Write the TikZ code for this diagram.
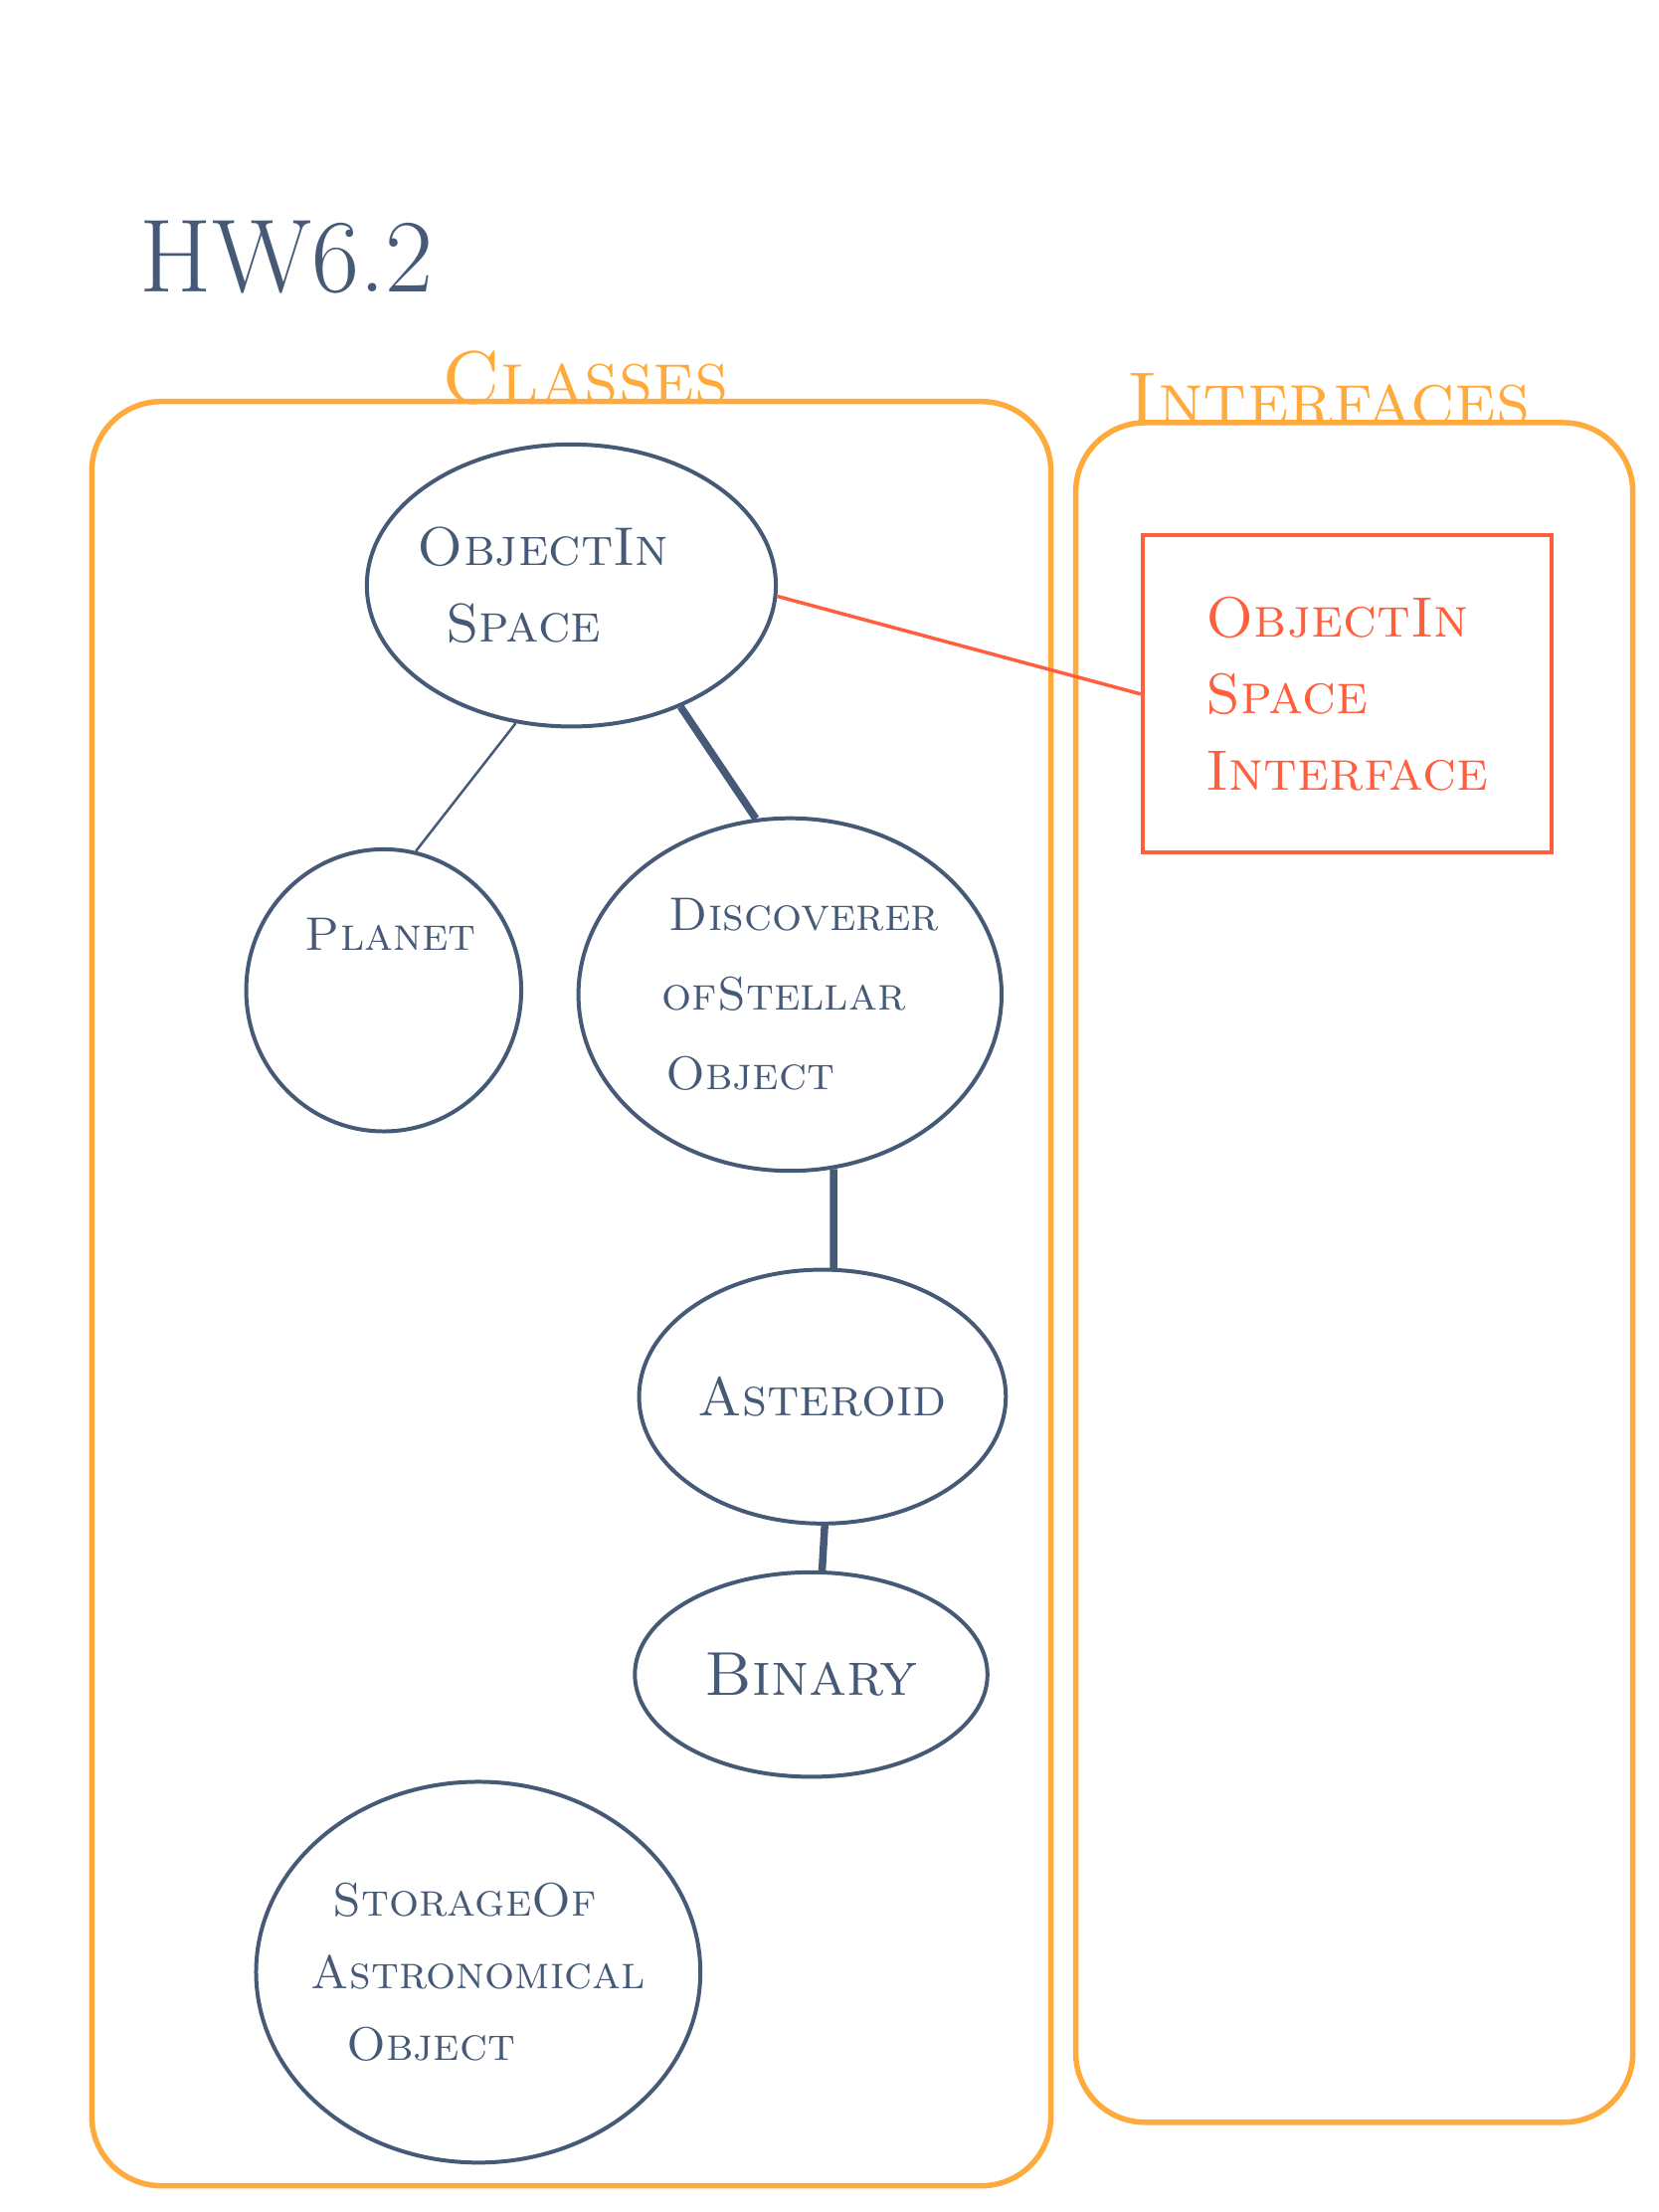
\documentclass[tikz,border=0pt]{standalone}
\usepackage{tikz}
\usetikzlibrary{shapes.geometric}

\definecolor{ink}{HTML}{465A78}
\definecolor{hl}{HTML}{FFAA3C}
\definecolor{rd}{HTML}{FF5F3C}

\tikzset{
  cls/.style={ellipse, draw=ink, line width=1.6pt, text=ink, align=left, inner sep=-20pt,
    font=\fontsize{22}{31}\selectfont\scshape},
  grp/.style={draw=hl, line width=2.2pt, rounded corners=28pt, inner sep=0pt},
  grplbl/.style={text=hl, font=\fontsize{30}{34}\selectfont\scshape},
  link/.style={draw=ink, line width=3pt},
  thinlink/.style={draw=ink, line width=1pt},
}

\begin{document}
\begin{tikzpicture}[x=0.02cm, y=-0.02cm]
       \useasboundingbox (0,0) rectangle (1176,1568);

       \node(T)[text=ink, font=\fontsize{42}{42}\selectfont] at (203,182) {HW6.2};

       % groups
       \node(CL)[grp, minimum width=13.6cm, minimum height=25.3cm] at (405,917) {};
       \node(NCL)[grplbl] at (415,268) {Classes};
       \node(IF)[grp, minimum width=7.9cm, minimum height=24.1cm] at (960,902) {};
       \node(NIF)[grplbl] at (942,283) {Interfaces};

       % classes
       \node(OIS)[cls, minimum width=5.8cm, minimum height=4.0cm] at (405,415) {ObjectIn\kern0.8cm\\\hspace{0.4cm}Space};
       \node(PL)[cls, minimum width=3.9cm, minimum height=4.0cm,
         label={[text=ink, font=\fontsize{19}{31}\selectfont\scshape, xshift=0.1cm, yshift=0.8cm]center:Planet}] at (272,702) {};
       \node(DSO)[cls, minimum width=6.0cm, minimum height=5.0cm,
         font=\fontsize{19}{32}\selectfont\scshape] at (560,705) {\hspace{0.4cm}Discoverer\\\hspace{0.3cm}ofStellar\\\hspace{0.35cm}Object};
       \node(AST)[cls, minimum width=5.2cm, minimum height=3.6cm] at (583,990) {Asteroid};
       \node(BIN)[cls, minimum width=5.0cm, minimum height=2.9cm,
         font=\fontsize{25}{31}\selectfont\scshape] at (575,1187) {Binary};
       \node(SAO)[cls, minimum width=6.3cm, minimum height=5.4cm,
         font=\fontsize{19}{29}\selectfont\scshape] at (339,1398) {\hspace{0.3cm}StorageOf\\Astronomical\\\hspace{0.5cm}Object};

       % interface
       \node(OISI)[draw=rd, line width=1.6pt, text=rd, align=left, minimum width=5.8cm, minimum height=4.5cm,
         font=\fontsize{23}{31}\selectfont\scshape] at (955,492) {ObjectIn\\Space\\Interface};

       \draw[thinlink] (OIS.-112) -- (PL.77);
       \draw[link] (OIS.-48) -- (DSO.101);
       \draw[link] (DSO.-76) -- (AST.85);
       \draw[link] (AST.-89) -- (BIN.84);
       \draw[rd, line width=1.4pt] (OIS.-3) -- (OISI.west);
\end{tikzpicture}
\end{document}
